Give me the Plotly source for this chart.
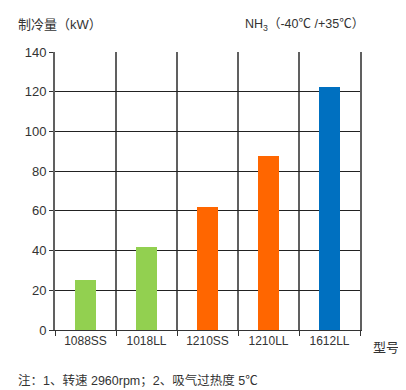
import plotly.graph_objects as go

models = ["1088SS", "1018LL", "1210SS", "1210LL", "1612LL"]
capacity = [25, 42, 62, 87.5, 122.5]
colors = ["#92D050", "#92D050", "#FF6600", "#FF6600", "#0070C0"]
y_ticks = [0, 20, 40, 60, 80, 100, 120, 140]

FONT = "Arial, Liberation Sans, Noto Sans CJK SC, sans-serif"
TXT = "#333333"

fig = go.Figure(go.Bar(x=models, y=capacity, marker_color=colors,
                       marker_line_width=0, width=0.33))

OFF = 8  # page body margin
W, H = 406 - OFF, 390 - OFF
L, T = 55 - OFF, 52 - OFF
R = W - (360 - OFF)
B = H - (330 - OFF)
pw, ph = W - L - R, H - T - B

def px(x):
    return (x - OFF - L) / pw

def py(y):
    return (H - B - (y - OFF)) / ph

fig.update_layout(
    width=W, height=H,
    margin=dict(l=L, r=R, t=T, b=B),
    plot_bgcolor="white", paper_bgcolor="white",
    font=dict(family=FONT, size=12, color=TXT),
    showlegend=False,
    bargap=0,
)
fig.update_xaxes(
    type="category", tickson="boundaries",
    showgrid=True, gridcolor="#606060", gridwidth=1.8,
    showline=True, linecolor="#333333", linewidth=1,
    ticks="outside", ticklen=5, tickcolor="#333333",
    tickfont=dict(size=12, color=TXT),
    mirror=False,
)
fig.update_yaxes(
    range=[0, 140], tickvals=y_ticks,
    showgrid=True, gridcolor="#222222", gridwidth=1,
    showline=True, linecolor="#606060", linewidth=1.8, mirror=True,
    ticks="outside", ticklen=4, tickcolor="#333333",
    tickfont=dict(size=13, color=TXT),
    zeroline=False,
)

fig.add_annotation(text="制冷量（kW）", xref="paper", yref="paper",
                   x=px(16), y=py(25), xanchor="left", yanchor="middle",
                   showarrow=False, font=dict(size=13, color=TXT))
fig.add_annotation(text="NH<sub>3</sub>（-40℃ /+35℃）", xref="paper", yref="paper",
                   x=px(366), y=py(25), xanchor="right", yanchor="middle",
                   showarrow=False, font=dict(size=12.5, color=TXT))
fig.add_annotation(text="型号", xref="paper", yref="paper",
                   x=px(371), y=py(347), xanchor="left", yanchor="middle",
                   showarrow=False, font=dict(size=13, color=TXT))
fig.add_annotation(text="注：1、转速 2960rpm；2、吸气过热度 5℃", xref="paper", yref="paper",
                   x=px(16), y=py(380), xanchor="left", yanchor="middle",
                   showarrow=False, font=dict(size=12.5, color=TXT))

fig.write_html("out.html")
